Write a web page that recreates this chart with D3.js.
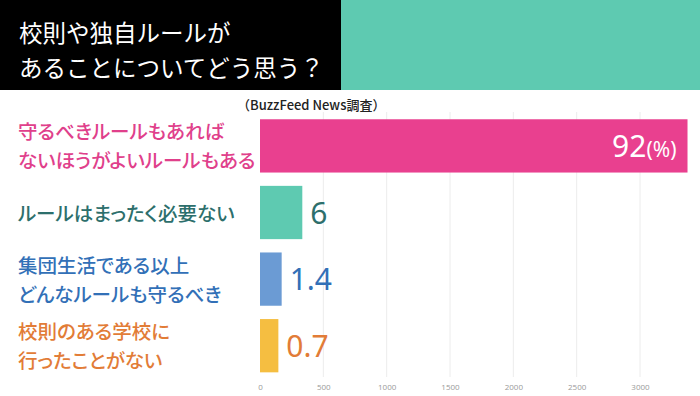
<!DOCTYPE html>
<meta charset="utf-8">
<style>
body{ margin:0; background:#fff; }
svg{ display:block; font-family:"Noto Sans CJK JP","Noto Sans",sans-serif; }
.grid line{ stroke:#ececec; stroke-width:1; }
.axis--x path, .axis--x line{ display:none; }
.axis--x text{ fill:#9a9a9a; font-size:8px; font-family:"Open Sans",sans-serif; }
.lab{ font-feature-settings:"palt"; }
</style>
<svg width="700" height="396"></svg>
<script src="https://d3js.org/d3.v7.min.js"></script>
<script>
var titleLines = ["校則や独自ルールが", "あることについてどう思う？"];
var source = "（BuzzFeed News調査）";
var categories = [
  ["守るべきルールもあれば", "ないほうがよいルールもある"],
  ["ルールはまったく必要ない"],
  ["集団生活である以上", "どんなルールも守るべき"],
  ["校則のある学校に", "行ったことがない"]
];
var counts = [3375, 334, 171, 145];          // bar lengths as drawn on the axis
var percents = ["92", "6", "1.4", "0.7"];   // printed labels
var ticks = [0, 500, 1000, 1500, 2000, 2500, 3000];
var barColors = ["#e9408f", "#5ecab1", "#6b9bd4", "#f5be41"];
var textColors = ["#e0408b", "#2d6f6c", "#3270b7", "#e27c37"];

var svg = d3.select("svg");

// header
svg.append("rect").attr("x", 0).attr("y", 0).attr("width", 341).attr("height", 90).attr("fill", "#000");
svg.append("rect").attr("x", 341).attr("y", 0).attr("width", 359).attr("height", 90).attr("fill", "#5ecab1");
svg.append("g").selectAll("text")
  .data(titleLines)
  .enter().append("text")
  .attr("x", 19)
  .attr("y", function(d, i){ return 42 + i * 35; })
  .attr("fill", "#fff")
  .style("font-size", "23.5px")
  .style("font-weight", 400)
  .text(function(d){ return d; });

svg.append("text")
  .attr("x", 237).attr("y", 110)
  .attr("fill", "#222")
  .style("font-size", "13px")
  .style("font-weight", 500)
  .text(source);

var x = d3.scaleLinear().domain([0, 3400]).range([260, 260 + 3400 * 0.12667]);
var y = d3.scaleBand().domain(d3.range(categories.length)).range([112.6, 379]).paddingInner(0.2).paddingOuter(0.1);

// gridlines
svg.append("g").attr("class", "grid")
  .selectAll("line")
  .data(ticks.slice(1))
  .enter().append("line")
  .attr("x1", function(d){ return x(d); })
  .attr("x2", function(d){ return x(d); })
  .attr("y1", 112).attr("y2", 377);

svg.append("g")
  .attr("class", "axis axis--x")
  .attr("transform", "translate(0,382)")
  .call(d3.axisBottom(x).tickValues(ticks).tickFormat(d3.format("d")).tickSize(0).tickPadding(2));

// bars
svg.append("g").selectAll("rect")
  .data(counts)
  .enter().append("rect")
  .attr("x", x(0))
  .attr("y", function(d, i){ return y(i); })
  .attr("width", function(d){ return x(d) - x(0); })
  .attr("height", y.bandwidth())
  .attr("fill", function(d, i){ return barColors[i]; });

// category labels
var lab = svg.append("g").selectAll("text")
  .data(categories)
  .enter().append("text")
  .attr("class", "lab")
  .attr("fill", function(d, i){ return textColors[i]; })
  .style("font-size", "19.5px")
  .style("font-weight", 500);
lab.each(function(lines, i){
  var cy = y(i) + y.bandwidth() / 2;
  d3.select(this).selectAll("tspan")
    .data(lines)
    .enter().append("tspan")
    .attr("x", 18)
    .attr("y", function(d, j){ return cy + 8 + (j - (lines.length - 1) / 2) * 29; })
    .text(function(d){ return d; });
});

// value labels
svg.append("g").selectAll("text")
  .data(counts)
  .enter().append("text")
  .attr("x", function(d, i){ return i === 0 ? x(d) - 11 : x(d) + 8; })
  .attr("y", function(d, i){ return y(i) + y.bandwidth() / 2 + 11; })
  .attr("text-anchor", function(d, i){ return i === 0 ? "end" : "start"; })
  .attr("fill", function(d, i){ return i === 0 ? "#fff" : textColors[i]; })
  .style("font-family", "\"Noto Sans\",sans-serif")
  .style("font-size", "30px")
  .each(function(d, i){
    var t = d3.select(this);
    t.append("tspan").text(percents[i]);
    if (i === 0) t.append("tspan").style("font-size", "21px").text("(%)");
  });
</script>
